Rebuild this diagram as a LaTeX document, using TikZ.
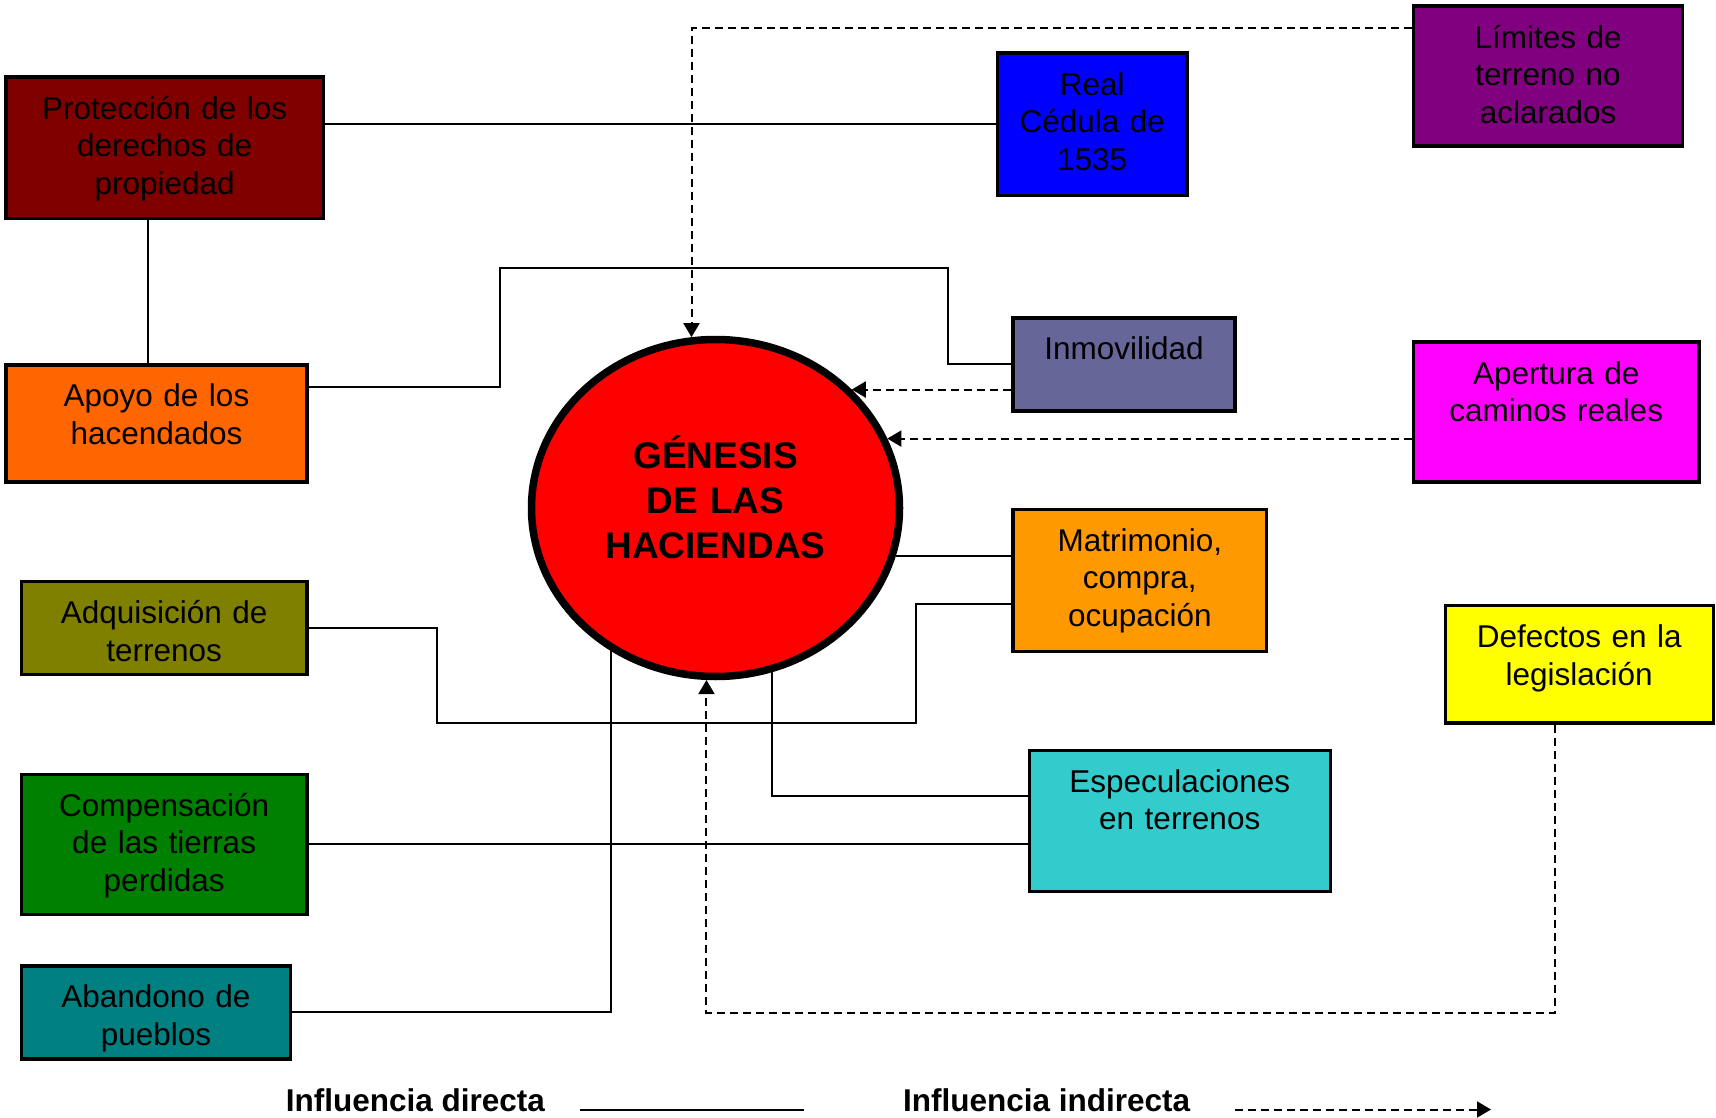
\documentclass[tikz,border=0pt]{standalone}
\usepackage{fontspec}
\setmainfont{Liberation Sans}
\usetikzlibrary{arrows.meta,shapes.geometric}
\definecolor{cprot}{HTML}{800000}
\definecolor{ccedula}{HTML}{0000FF}
\definecolor{climites}{HTML}{800080}
\definecolor{capoyo}{HTML}{FF6600}
\definecolor{cinmov}{HTML}{666699}
\definecolor{capert}{HTML}{FF00FF}
\definecolor{cmatri}{HTML}{FF9900}
\definecolor{cdefect}{HTML}{FFFF00}
\definecolor{cadquis}{HTML}{808000}
\definecolor{ccompens}{HTML}{008000}
\definecolor{caband}{HTML}{008080}
\definecolor{cespec}{HTML}{33CCCC}
\definecolor{cgen}{HTML}{FF0000}
\tikzset{
  box/.style={draw, line width=3.3pt, inner sep=0pt, anchor=north west, align=center,
    text height=42pt, font=\fontsize{31.5pt}{37.5pt}\selectfont},
  genesis/.style={ellipse, draw, line width=7.5pt, fill=cgen, minimum width=368pt,
    minimum height=337pt, inner sep=0pt, align=center, text width=240pt,
    text height=32pt, text depth=111pt, font=\bfseries\fontsize{37pt}{45pt}\selectfont},
  direct/.style={line width=2pt},
  indirect/.style={line width=2pt, dash pattern=on 8pt off 5pt,
    -{Triangle[length=14pt,width=16pt]}},
  legend/.style={anchor=base west, font=\bfseries\fontsize{31.5pt}{37.5pt}\selectfont}
}
\begin{document}
\begin{tikzpicture}[x=1pt,y=-1pt]
  \useasboundingbox (0,0) rectangle (1716,1118);
  \node[genesis] (gen) at (715.5,508) {GÉNESIS\\DE LAS\\HACIENDAS};
  \node[box, fill=cprot, text width=317.3pt, text depth=99.2pt] (prot) at (4.4,75.5)
    {Protección de los\\derechos de\\propiedad};
  \node[box, fill=ccedula, text width=189.3pt, text depth=100.3pt] (cedula) at (995.9,51.4)
    {Real\\Cédula de\\1535};
  \node[box, fill=climites, text width=269.2pt, text depth=98pt] (limites) at (1411.8,4.4)
    {Límites de\\terreno no\\aclarados};
  \node[box, fill=capoyo, text width=300.9pt, text depth=75.1pt] (apoyo) at (4.4,363.3)
    {Apoyo de los\\hacendados};
  \node[box, fill=cinmov, text width=222.2pt, text depth=51pt] (inmov) at (1011.2,316.3)
    {Inmovilidad};
  \node[box, fill=capert, text width=285.6pt, text depth=98pt] (apert) at (1411.8,340.4)
    {Apertura de\\caminos reales};
  \node[box, fill=cmatri, text width=253.9pt, text depth=100.3pt] (matri) at (1011.2,507.8)
    {Matrimonio,\\compra,\\ocupación};
  \node[box, fill=cdefect, text width=268.1pt, text depth=75.1pt] (defect) at (1443.5,604.1)
    {Defectos en la\\legislación};
  \node[box, fill=cadquis, text width=285.6pt, text depth=51pt] (adquis) at (19.7,580)
    {Adquisición de\\terrenos};
  \node[box, fill=ccompens, text width=285.6pt, text depth=98.1pt] (compens) at (19.7,772.6)
    {Compensación\\de las tierras\\perdidas};
  \node[box, fill=caband, text width=269.2pt, text depth=51pt] (aband) at (19.7,964.2)
    {Abandono de\\pueblos};
  \node[box, fill=cespec, text width=301pt, text depth=99.1pt] (espec) at (1027.6,748.6)
    {Especulaciones\\en terrenos};
  \node[legend] (legdir) at (282.4,1111) {Influencia directa};
  \node[legend] (legind) at (899.6,1111) {Influencia indirecta};
  \coordinate (dirA) at (580,1109.5);
  \coordinate (dirB) at (804.4,1109.5);
  \coordinate (indA) at (1234.5,1109.5);
  \coordinate (indB) at (1491,1109.5);
  \begin{scope}[direct]
    \draw (prot.east |- cedula.west) -- (cedula.west);
    \draw ([xshift=-17pt]prot.south) -- ([xshift=-17pt]prot.south |- apoyo.north);
    \draw ([yshift=-24pt]apoyo.north east) -| (500,268) -| ([xshift=-63.4pt]inmov.west) -- (inmov.west);
    \draw (gen.345.1) -- (gen.345.1 -| matri.west);
    \draw ([yshift=-23.5pt]matri.west) -| (916,723.4) -| ([xshift=128pt]adquis.east) -- (adquis.east);
    \draw (gen.289.3) |- ([yshift=25pt]espec.west);
    \draw (compens.east) -- (compens.east -| espec.west);
    \draw (aband.east) -| (gen.234.1);
    \draw (dirA) -- (dirB);
  \end{scope}
  \begin{scope}[indirect]
    \draw ([yshift=-24pt]limites.north west) -| (gen.98.3);
    \draw (gen.41.5 -| inmov.west) -- (gen.41.5);
    \draw (gen.22.7 -| apert.west) -- (gen.22.7);
    \draw ([xshift=-24pt]defect.south) -- ++(0,288) -| (gen.267.2);
    \draw (indA) -- (indB);
  \end{scope}
\end{tikzpicture}
\end{document}
